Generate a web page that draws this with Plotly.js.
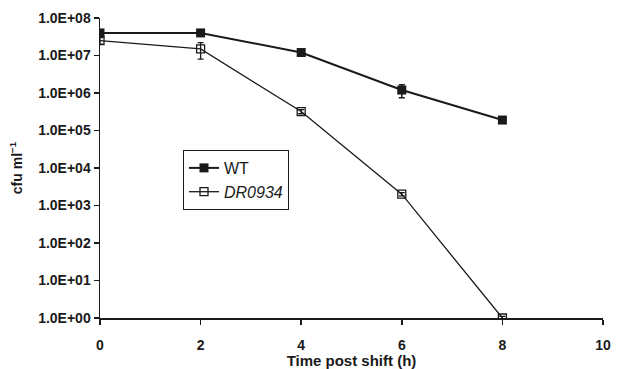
<!DOCTYPE html>
<html><head><meta charset="utf-8">
<script src="https://cdn.plot.ly/plotly-3.0.1.min.js"></script>
<style>html,body{margin:0;padding:0;background:#fff}#chart{width:624px;height:369px}</style>
</head><body><div id="chart"></div>
<script>
const timeHours = [0, 2, 4, 6, 8];
const wtCfu = [4.0e7, 4.0e7, 1.2e7, 1.2e6, 1.9e5];
const wtErr = [0.5e7, 0.6e7, 0.15e7, 0.45e6, 0.2e5];
const mutCfu = [2.5e7, 1.5e7, 3.2e5, 2.0e3, 1.0];
const mutErr = [0.5e7, 0.7e7, 0.4e5, 0.2e3, 0.1];
const yTickVals = [1, 10, 100, 1e3, 1e4, 1e5, 1e6, 1e7, 1e8];
const yTickText = ["1.0E+00","1.0E+01","1.0E+02","1.0E+03","1.0E+04","1.0E+05","1.0E+06","1.0E+07","1.0E+08"];
const xTickVals = [0, 2, 4, 6, 8, 10];
const xTickText = ["0", "2", "4", "6", "8", "10"];

const bold = s => "<b>" + s + "</b>";
const font = {family: "Liberation Sans, Arial, sans-serif", color: "#1a1a1a"};
const traces = [
  {x: timeHours, y: wtCfu, name: "WT", type: "scatter", mode: "lines+markers",
   line: {color: "#1a1a1a", width: 2}, marker: {symbol: "square", size: 9, color: "#1a1a1a"},
   error_y: {type: "data", array: wtErr, color: "#1a1a1a", thickness: 1.5, width: 3}},
  {x: timeHours, y: mutCfu, name: "<i>DR0934</i>", type: "scatter", mode: "lines+markers",
   line: {color: "#1a1a1a", width: 1.3}, marker: {symbol: "square-open", size: 8, color: "#1a1a1a", line: {width: 1.3}},
   error_y: {type: "data", array: mutErr, color: "#1a1a1a", thickness: 1.3, width: 3}}
];
const layout = {
  width: 624, height: 369,
  margin: {l: 100, r: 21, t: 18, b: 51},
  paper_bgcolor: "#fff", plot_bgcolor: "#fff",
  showlegend: true,
  legend: {x: 0.165, y: 0.56, xanchor: "left", yanchor: "top", bordercolor: "#1a1a1a", borderwidth: 1,
    bgcolor: "#fff", font: {family: font.family, size: 16, color: "#1a1a1a"}, tracegroupgap: 0, itemwidth: 30},
  xaxis: {range: [0, 10], tickvals: xTickVals, ticktext: xTickText.map(bold), ticks: "outside", ticklen: 5, tickwidth: 1.5, tickcolor: "#1a1a1a",
    showline: true, linecolor: "#1a1a1a", linewidth: 1.5, showgrid: false, zeroline: false,
    ticklabelstandoff: 9,
    tickfont: {family: font.family, size: 14, color: "#1a1a1a"},
    title: {text: "<b>Time post shift (h)</b>", font: {family: font.family, size: 15, color: "#1a1a1a"}, standoff: 0}},
  yaxis: {type: "log", range: [0, 8], tickvals: yTickVals, ticktext: yTickText.map(bold), ticks: "outside", ticklen: 5,
    tickwidth: 1.5, tickcolor: "#1a1a1a", showline: true, linecolor: "#1a1a1a", linewidth: 1.5, showgrid: false, zeroline: false,
    tickfont: {family: font.family, size: 14, color: "#1a1a1a"},
    title: {text: "<b>cfu ml<sup>−1</sup></b>", font: {family: font.family, size: 14, color: "#1a1a1a"}, standoff: 12}}
};
Plotly.newPlot("chart", traces, layout, {displayModeBar: false, staticPlot: true});
</script></body></html>
